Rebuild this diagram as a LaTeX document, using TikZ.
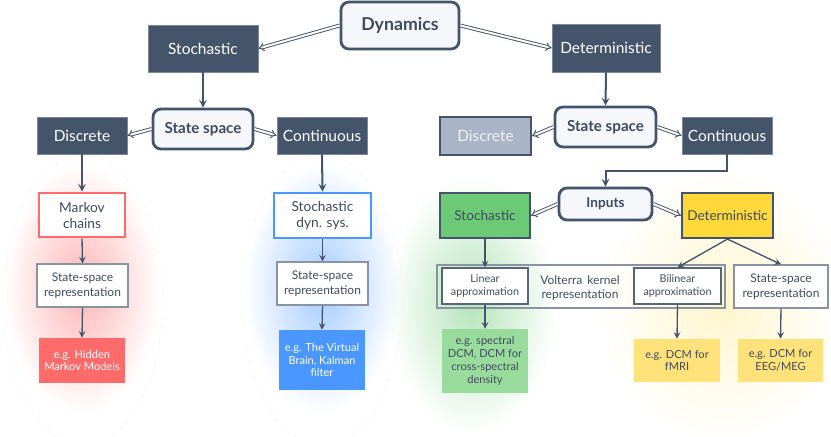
\documentclass[tikz,border=0pt]{standalone}
\usepackage{fontspec}
\setmainfont{Lato}
\usetikzlibrary{arrows.meta,fadings}
\definecolor{slate}{HTML}{44546A}
\definecolor{txt}{HTML}{3F4B5E}
\definecolor{paper}{HTML}{F5F7FA}
\definecolor{thinline}{HTML}{8A93A2}
\definecolor{greyblue}{HTML}{A9B4C6}
\definecolor{redc}{HTML}{FF6B6B}
\definecolor{bluec}{HTML}{4A97FF}
\definecolor{greenc}{HTML}{6CC975}
\definecolor{greenl}{HTML}{98DB9D}
\definecolor{yellowc}{HTML}{FFD83A}
\definecolor{yellowl}{HTML}{FFE37A}
\tikzfading[name=glowfade, inner color=transparent!50, outer color=transparent!100]
\tikzfading[name=glowfadeweak, inner color=transparent!75, outer color=transparent!100]
\begin{document}
\begin{tikzpicture}[x=0.75pt,y=-0.75pt,
  wh/.style 2 args={minimum width=#1*0.75pt,minimum height=#2*0.75pt},
  base/.style={inner sep=0pt,align=center},
  darkbox/.style={base,fill=slate,draw=slate!70!white,line width=0.6pt,text=white,font=\fontsize{11.6}{14}\selectfont},
  roundbox/.style={base,fill=paper,draw=slate,line width=2.1pt,rounded corners=6pt,text=txt,font=\fontsize{11.4}{14}\selectfont\bfseries},
  thinbox/.style={base,fill=white,draw=thinline,line width=0.9pt,text=txt,font=\fontsize{9}{11}\selectfont},
  smallbox/.style={base,fill=white,draw=slate!90!white,line width=0.9pt,text=txt,font=\fontsize{8.1}{10}\selectfont},
  midbox/.style={base,fill=white,line width=2pt,text=txt,font=\fontsize{10.3}{12}\selectfont},
  colbox/.style={base,line width=1.6pt,draw=slate,text=txt,font=\fontsize{10.2}{12}\selectfont},
  leaf/.style={base,text=white,font=\fontsize{8.3}{9.6}\selectfont},
  leafd/.style={base,text=txt,font=\fontsize{8.3}{9.6}\selectfont},
  dbl/.style={draw=slate,line width=0.7pt,double=white,double distance=1.5pt,-{Implies}},
  arr/.style={draw=slate,line width=1.5pt,-{Stealth[length=6pt,width=6pt,inset=2.5pt]}},
  tarr/.style={draw=slate,line width=1pt,-{Stealth[length=5pt,width=5pt,inset=2pt]}},
  faint/.style={draw=black!5,line width=0.4pt,dashed}
]
\useasboundingbox (0,0) rectangle (831,436);
% glows
\fill[redc,path fading=glowfade] (82,288) ellipse (78 and 125);
\fill[bluec,path fading=glowfade] (322,288) ellipse (78 and 125);
\fill[greenc,path fading=glowfade] (472,305) ellipse (85 and 130);
\fill[yellowc,path fading=glowfadeweak] (722,305) ellipse (125 and 135);
\draw[faint] (83,300) ellipse (80 and 145);
\draw[faint] (322,300) ellipse (80 and 145);

% top
\node[roundbox,wh={118}{47},font=\fontsize{13.3}{16}\selectfont\bfseries] (dyn) at (400,25.5) {Dynamics};
\node[darkbox,wh={110}{47}] (stoT) at (203,48.5) {Stochastic};
\node[darkbox,wh={108}{48}] (detT) at (606,48) {Deterministic};

% left branch
\node[roundbox,wh={100}{40}] (ssL) at (203,129) {State space};
\node[darkbox,wh={90}{37}] (discL) at (82,135.5) {Discrete};
\node[darkbox,wh={90}{37}] (contL) at (322,135.5) {Continuous};

\node[midbox,draw=redc,wh={86}{44}] (markov) at (82,215) {Markov\\chains};
\node[thinbox,wh={91}{43}] (ssRed) at (82.5,285.5) {State-space\\representation};
\node[leaf,fill=redc,wh={86}{45}] (hmm) at (82,360.5) {e.g. Hidden\\Markov Models};

\node[midbox,draw=bluec,wh={97}{45}] (sds) at (322.5,215.5) {Stochastic\\dyn. sys.};
\node[thinbox,wh={91}{43}] (ssBlue) at (322.5,283.5) {State-space\\representation};
\node[leaf,fill=bluec,wh={86}{60}] (vb) at (322,360) {e.g. The Virtual\\Brain, Kalman\\filter};

% right branch
\node[roundbox,wh={101}{40}] (ssR) at (605.5,127) {State space};
\node[darkbox,fill=greyblue,draw=slate,line width=1.4pt,text=white!92!slate,wh={91}{38}] (discR) at (485.5,136) {Discrete};
\node[darkbox,wh={90}{37}] (contR) at (727,135.5) {Continuous};

\node[roundbox,wh={93}{32},font=\fontsize{10.2}{12}\selectfont\bfseries] (inputs) at (605.5,204) {Inputs};
\node[colbox,fill=greenc,wh={90}{45}] (stoG) at (485,215.5) {Stochastic};
\node[colbox,fill=yellowc,wh={91}{45}] (detY) at (727.5,215.5) {Deterministic};

\node[thinbox,fill=none,wh={288}{43}] (volt) at (581,286.5) {};
\node[base,text=txt,font=\fontsize{9}{11}\selectfont] (voltlabel) at (580,288) {Volterra\, kernel\\representation};
\node[smallbox,wh={86}{36}] (lin) at (485,286) {Linear\\approximation};
\node[smallbox,wh={87}{36}] (bil) at (677.5,286) {Bilinear\\approximation};
\node[thinbox,wh={94}{43}] (ssY) at (781,286.5) {State-space\\representation};

\node[leafd,fill=greenl,wh={86}{64}] (egG) at (485,361) {e.g. spectral\\DCM, DCM for\\cross-spectral\\density};
\node[leafd,fill=yellowl,wh={86}{43}] (egF) at (677,360.5) {e.g. DCM for\\fMRI};
\node[leafd,fill=yellowl,wh={85}{43}] (egE) at (780.5,360.5) {e.g. DCM for\\EEG/MEG};

% connectors
\draw[dbl] (dyn.west) -- (stoT.east);
\draw[dbl] (dyn.east) -- (detT.west);
\draw[arr] (stoT.south) -- (ssL.north);
\draw[arr] (detT.south) -- (ssR.north);
\draw[dbl] (ssL.west) -- (discL.east);
\draw[dbl] (ssL.east) -- (contL.west);
\draw[dbl] (ssR.west) -- (discR.east);
\draw[dbl] (ssR.east) -- (contR.west);
\draw[arr] (discL.south) -- (markov.north);
\draw[arr] (contL.south) -- (sds.north);
\draw[tarr] (markov.south) -- (ssRed.north);
\draw[tarr] (ssRed.south) -- (hmm.north);
\draw[tarr] (sds.south) -- (ssBlue.north);
\draw[tarr] (ssBlue.south) -- (vb.north);
\draw[arr] (contR.south) -- ++(0,17) -| (inputs.north);
\draw[dbl] (inputs.west) -- (stoG.east);
\draw[dbl] (inputs.east) -- (detY.west);
\draw[tarr] (stoG.south) -- (lin.north);
\draw[tarr] (detY.south) -- (bil.north);
\draw[tarr] (detY.south) -- (ssY.north);
\draw[tarr] (lin.south) -- (egG.north);
\draw[tarr] (bil.south) -- (egF.north);
\draw[tarr] (ssY.south) -- (egE.north);
\end{tikzpicture}
\end{document}
